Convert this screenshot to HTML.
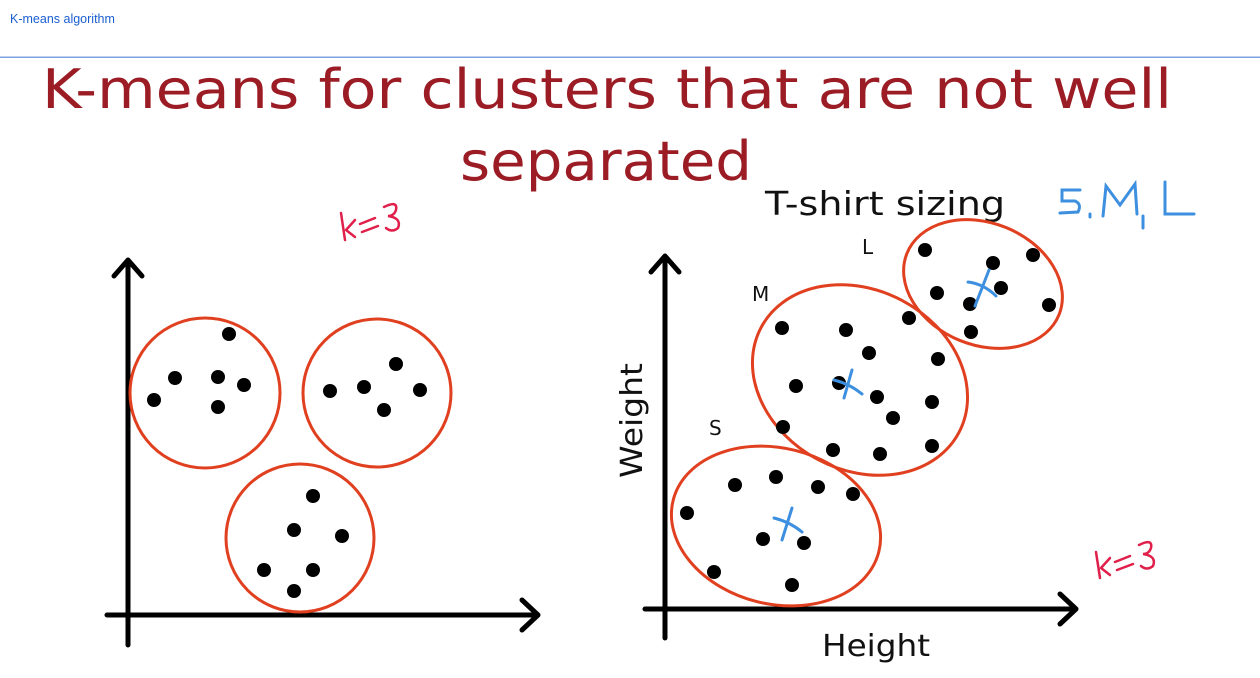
<!DOCTYPE html>
<html><head><meta charset="utf-8"><style>
html,body{margin:0;padding:0;background:#fff;width:1260px;height:678px;overflow:hidden}
</style></head><body>
<svg width="1260" height="678" viewBox="0 0 1260 678" xmlns="http://www.w3.org/2000/svg">
<text x="10" y="23" font-family="Liberation Sans, sans-serif" font-size="12.5" fill="#1a5fd0">K-means algorithm</text>
<rect x="0" y="56.5" width="1260" height="1.5" fill="#7ba3e0"/>
<g font-family="DejaVu Sans, sans-serif" fill="#9b1c24" font-size="54">
<text x="42" y="108" textLength="1130" lengthAdjust="spacingAndGlyphs">K-means for clusters that are not well</text>
<text x="460" y="180" textLength="292" lengthAdjust="spacingAndGlyphs">separated</text>
</g>
<g font-family="DejaVu Sans, sans-serif" fill="#111">
<text x="765" y="215" font-size="33" textLength="240" lengthAdjust="spacingAndGlyphs">T-shirt sizing</text>
<text x="862" y="254" font-size="20">L</text>
<text x="752" y="301" font-size="20">M</text>
<text x="709" y="435" font-size="20">S</text>
<text x="822" y="656" font-size="30" textLength="108" lengthAdjust="spacingAndGlyphs">Height</text>
<text transform="translate(642,478) rotate(-90)" font-size="30" textLength="115" lengthAdjust="spacingAndGlyphs">Weight</text>
</g>
<g fill="none" stroke="#3d8fe0" stroke-width="3" stroke-linecap="round">
<path d="M1080 190 L1062 190 L1062 201 L1075 201 Q1082 204 1078 212 L1060 213"/>
<path d="M1090 214 L1090 217"/>
<path d="M1103 216 L1106 186 L1120 205 L1135 184 L1137 214"/>
<path d="M1143 216 L1143 228"/>
<path d="M1165 182 L1165 214 L1194 214"/>
</g>
<g fill="none" stroke="#e0204a" stroke-width="2.5" stroke-linecap="round">
<path d="M341 213 L345 240 M346 230 L355 220 M346 230 L355 237"/>
<path d="M360 224 L375 218 M362 232 L378 226"/>
<path d="M384 207 Q398 200 396 210 Q394 216 388 216 Q402 218 398 228 Q392 233 386 228"/>
<path d="M1096 552 L1100 578 M1101 568 L1110 558 M1101 568 L1110 575"/>
<path d="M1115 562 L1130 556 M1117 570 L1133 564"/>
<path d="M1139 545 Q1153 538 1151 548 Q1149 554 1143 554 Q1157 556 1153 566 Q1147 571 1141 566"/>
</g>
<g stroke="#000" stroke-width="5" fill="none" stroke-linecap="round" stroke-linejoin="round">
<path d="M128 645 L128 260 M114 276 L128 260 L142 276"/>
<path d="M107 615 L538 615 M522 600 L538 615 L522 630"/>
<path d="M665 638 L665 256 M651 272 L665 256 L679 272"/>
<path d="M645 609 L1076 609 M1060 594 L1076 609 L1060 624"/>
</g>
<g stroke="#e0401f" stroke-width="3" fill="none">
<circle cx="205" cy="393" r="75"/>
<circle cx="377" cy="393" r="74"/>
<circle cx="300" cy="538" r="74"/>
<ellipse cx="983" cy="284" rx="82" ry="61" transform="rotate(22 983 284)"/>
<ellipse cx="860" cy="380" rx="112" ry="90" transform="rotate(28 860 380)"/>
<ellipse cx="776" cy="526" rx="106" ry="78" transform="rotate(14 776 526)"/>
</g>
<g fill="#000">
<circle cx="229" cy="334" r="7"/><circle cx="175" cy="378" r="7"/><circle cx="154" cy="400" r="7"/><circle cx="218" cy="377" r="7"/><circle cx="244" cy="385" r="7"/><circle cx="218" cy="407" r="7"/>
<circle cx="330" cy="391" r="7"/><circle cx="364" cy="387" r="7"/><circle cx="396" cy="364" r="7"/><circle cx="420" cy="390" r="7"/><circle cx="384" cy="410" r="7"/>
<circle cx="313" cy="496" r="7"/><circle cx="294" cy="530" r="7"/><circle cx="342" cy="536" r="7"/><circle cx="264" cy="570" r="7"/><circle cx="313" cy="570" r="7"/><circle cx="294" cy="591" r="7"/>
<circle cx="925" cy="250" r="7"/><circle cx="993" cy="263" r="7"/><circle cx="1033" cy="255" r="7"/><circle cx="937" cy="293" r="7"/><circle cx="1001" cy="288" r="7"/><circle cx="970" cy="304" r="7"/><circle cx="1049" cy="305" r="7"/><circle cx="971" cy="332" r="7"/>
<circle cx="782" cy="328" r="7"/><circle cx="846" cy="330" r="7"/><circle cx="909" cy="318" r="7"/><circle cx="869" cy="353" r="7"/><circle cx="938" cy="359" r="7"/><circle cx="796" cy="386" r="7"/><circle cx="839" cy="383" r="7"/><circle cx="877" cy="397" r="7"/><circle cx="893" cy="418" r="7"/><circle cx="932" cy="402" r="7"/><circle cx="783" cy="427" r="7"/><circle cx="833" cy="450" r="7"/><circle cx="880" cy="454" r="7"/><circle cx="932" cy="446" r="7"/>
<circle cx="735" cy="485" r="7"/><circle cx="776" cy="477" r="7"/><circle cx="818" cy="487" r="7"/><circle cx="853" cy="494" r="7"/><circle cx="687" cy="513" r="7"/><circle cx="763" cy="539" r="7"/><circle cx="804" cy="543" r="7"/><circle cx="714" cy="572" r="7"/><circle cx="792" cy="585" r="7"/>
</g>
<g stroke="#3d8fe0" stroke-width="3" fill="none" stroke-linecap="round">
<path d="M852 370 L844 398 M834 380 Q850 384 862 394"/>
<path d="M989 270 L975 306 M968 282 Q984 284 996 296"/>
<path d="M792 508 L782 540 M774 518 Q790 522 802 532"/>
</g>
</svg>
</body></html>
